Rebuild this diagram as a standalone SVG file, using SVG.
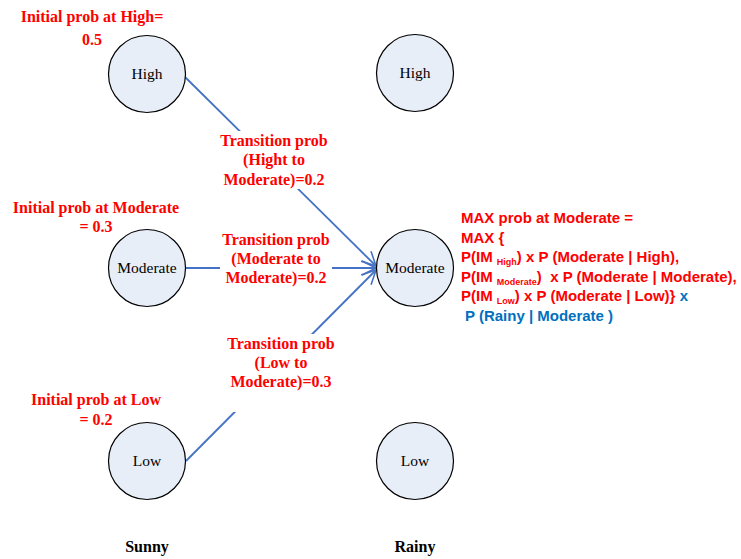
<svg xmlns="http://www.w3.org/2000/svg" width="741" height="559" viewBox="0 0 741 559">
<defs>
<marker id="arr" viewBox="0 0 16 16" refX="15" refY="8" markerWidth="16" markerHeight="16" markerUnits="userSpaceOnUse" orient="auto">
<path d="M1,1 L15,8 L1,15" fill="none" stroke="#4472C4" stroke-width="1.6"/>
</marker>
<style>
.node circle{fill:#E8EEF7;stroke:#000;stroke-width:1.2}
.node text{font-family:"Liberation Serif",serif;font-size:15.5px;fill:#000;text-anchor:middle}
.lbl{font-family:"Liberation Serif",serif;font-weight:bold;font-size:16px;fill:#FF0000;text-anchor:middle}
.conn{fill:none;stroke:#4472C4;stroke-width:1.8}
.mask{fill:#fff}
.cal{font-family:"Liberation Sans",Arial,sans-serif;font-weight:bold;font-size:15px;fill:#FF0000;white-space:pre}
.blue{fill:#0070C0}
.sub{font-size:9px}
.col{font-family:"Liberation Serif",serif;font-weight:bold;font-size:16px;fill:#000;text-anchor:middle}
</style>
</defs>
<rect width="741" height="559" fill="#fff"/>
<g id="connectors">
<path class="conn" d="M185,77 L376,266" marker-end="url(#arr)"/>
<path class="conn" d="M186,268 L376,268" marker-end="url(#arr)"/>
<path class="conn" d="M186,461 L376,270" marker-end="url(#arr)"/>
</g>
<g id="label-high-mod">
<rect class="mask" x="214" y="131" width="120" height="58"/>
<text class="lbl" x="274" y="146">Transition prob</text>
<text class="lbl" x="274" y="165">(Hight to</text>
<text class="lbl" x="274" y="185">Moderate)=0.2</text>
</g>
<g id="label-mod-mod">
<rect class="mask" x="220" y="230" width="112" height="58"/>
<text class="lbl" x="276" y="245">Transition prob</text>
<text class="lbl" x="276" y="264">(Moderate to</text>
<text class="lbl" x="276" y="283">Moderate)=0.2</text>
</g>
<g id="label-low-mod">
<rect class="mask" x="222" y="334" width="118" height="78"/>
<text class="lbl" x="281" y="349">Transition prob</text>
<text class="lbl" x="281" y="368">(Low to</text>
<text class="lbl" x="281" y="387">Moderate)=0.3</text>
</g>
<g id="sunny-high" class="node"><circle cx="147" cy="74" r="38.5"/><text x="147" y="79">High</text></g>
<g id="sunny-moderate" class="node"><circle cx="147" cy="268" r="38.5"/><text x="147" y="273">Moderate</text></g>
<g id="sunny-low" class="node"><circle cx="147" cy="461" r="38.5"/><text x="147" y="466">Low</text></g>
<g id="rainy-high" class="node"><circle cx="415" cy="73" r="38.5"/><text x="415" y="78">High</text></g>
<g id="rainy-moderate" class="node"><circle cx="415" cy="268" r="38.5"/><text x="415" y="273">Moderate</text></g>
<g id="rainy-low" class="node"><circle cx="415" cy="461" r="38.5"/><text x="415" y="466">Low</text></g>
<g id="initial-labels">
<text class="lbl" x="92" y="22">Initial prob at High=</text>
<text class="lbl" x="92" y="45">0.5</text>
<text class="lbl" x="96" y="213">Initial prob at Moderate</text>
<text class="lbl" x="96" y="232">= 0.3</text>
<text class="lbl" x="96" y="405">Initial prob at Low</text>
<text class="lbl" x="96" y="425">= 0.2</text>
</g>
<g id="max-formula">
<text class="cal" x="461" y="223">MAX prob at Moderate =</text>
<text class="cal" x="461" y="243">MAX {</text>
<text class="cal" x="461" y="262">P(IM <tspan class="sub" dy="3">High</tspan><tspan dy="-3">) x P (Moderate | High),</tspan></text>
<text class="cal" x="461" y="282">P(IM <tspan class="sub" dy="3">Moderate</tspan><tspan dy="-3">)  x P (Moderate | Moderate),</tspan></text>
<text class="cal" x="461" y="301">P(IM <tspan class="sub" dy="3">Low</tspan><tspan dy="-3">) x P (Moderate | Low)} </tspan><tspan class="blue">x</tspan></text>
<text class="cal blue" x="465" y="321">P (Rainy | Moderate )</text>
</g>
<g id="columns">
<text class="col" x="147" y="552">Sunny</text>
<text class="col" x="415" y="552">Rainy</text>
</g>
</svg>
